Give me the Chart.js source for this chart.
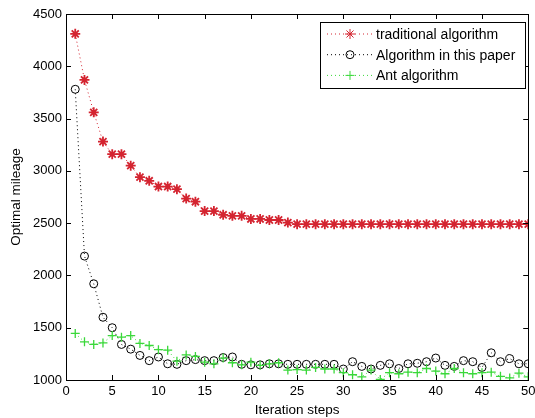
<!DOCTYPE html>
<html>
<head>
<meta charset="utf-8">
<script src="https://cdn.jsdelivr.net/npm/chart.js@4.4.1/dist/chart.umd.min.js"></script>
<style>
  html, body { margin: 0; padding: 0; background: #fff; }
  #wrap { position: relative; width: 535px; height: 418px; }
</style>
</head>
<body>
<div id="wrap"><canvas id="chart" width="535" height="418"></canvas></div>
<script>
// iteration steps (x)
const steps = [1, 2, 3, 4, 5, 6, 7, 8, 9, 10, 11, 12, 13, 14, 15, 16, 17, 18, 19, 20,
  21, 22, 23, 24, 25, 26, 27, 28, 29, 30, 31, 32, 33, 34, 35, 36, 37, 38, 39, 40,
  41, 42, 43, 44, 45, 46, 47, 48, 49, 50];

// series values
const traditional = [4310, 3870, 3560, 3280, 3160, 3160, 3050, 2940, 2905, 2850,
  2850, 2825, 2735, 2705, 2615, 2615, 2580, 2570, 2570, 2540,
  2540, 2530, 2530, 2505, 2490, 2490, 2490, 2490, 2490, 2490,
  2490, 2490, 2490, 2490, 2490, 2490, 2490, 2490, 2490, 2490,
  2490, 2490, 2490, 2490, 2490, 2490, 2490, 2490, 2490, 2490];
const thisPaper = [3780, 2185, 1920, 1600, 1500, 1340, 1295, 1235, 1185, 1220,
  1155, 1150, 1185, 1195, 1185, 1185, 1215, 1220, 1150, 1145,
  1145, 1155, 1155, 1150, 1150, 1150, 1150, 1150, 1150, 1105,
  1175, 1130, 1105, 1140, 1155, 1110, 1155, 1160, 1175, 1210,
  1140, 1130, 1185, 1175, 1120, 1260, 1175, 1205, 1155, 1155];
const antAlg = [1445, 1365, 1340, 1355, 1425, 1410, 1425, 1350, 1330, 1290,
  1285, 1180, 1240, 1225, 1170, 1155, 1210, 1165, 1145, 1170,
  1140, 1155, 1165, 1095, 1100, 1095, 1120, 1105, 1105, 1070,
  1050, 1030, 1095, 1005, 1070, 1060, 1075, 1070, 1110, 1085,
  1060, 1110, 1070, 1060, 1070, 1075, 1035, 1020, 1065, 1030];

const seriesNames = ['traditional algorithm', 'Algorithm in this paper', 'Ant algorithm'];

// axis ranges / ticks
const xMin = 0, xMax = 50, xStep = 5;
const yMin = 1000, yMax = 4500, yStep = 500;

const FONT = "'Liberation Sans', Arial, sans-serif";
const RED = '#d42430';
const GREEN = '#3ad83a';

function toPoints(vals) {
  return steps.map((s, i) => ({ x: s, y: vals[i] }));
}

// frame with inward ticks, MATLAB style, plus a boxed legend
const matlabFrame = {
  id: 'matlabFrame',
  afterDraw(chart) {
    const { ctx, chartArea, scales } = chart;
    const { left, right, top, bottom } = chartArea;
    const tl = 5;
    ctx.save();
    ctx.strokeStyle = '#000';
    ctx.lineWidth = 1;
    ctx.beginPath();
    scales.x.ticks.forEach(t => {
      const px = Math.round(scales.x.getPixelForValue(t.value)) + 0.5;
      ctx.moveTo(px, bottom); ctx.lineTo(px, bottom - tl);
      ctx.moveTo(px, top); ctx.lineTo(px, top + tl);
    });
    scales.y.ticks.forEach(t => {
      const py = Math.round(scales.y.getPixelForValue(t.value)) + 0.5;
      ctx.moveTo(left, py); ctx.lineTo(left + tl, py);
      ctx.moveTo(right, py); ctx.lineTo(right - tl, py);
    });
    ctx.stroke();
    ctx.strokeRect(Math.round(left) + 0.5, Math.round(top) + 0.5,
      Math.round(right - left), Math.round(bottom - top));

    // legend box
    const lw = 205, lh = 66;
    const lx = Math.round(right) - 3 - lw, ly = Math.round(top) + 8;
    ctx.fillStyle = '#fff';
    ctx.fillRect(lx, ly, lw, lh);
    ctx.strokeRect(lx + 0.5, ly + 0.5, lw, lh);
    ctx.font = '14px ' + FONT;
    ctx.textBaseline = 'middle';
    ctx.textAlign = 'left';
    chart.data.datasets.forEach((ds, i) => {
      const cy = ly + 12 + i * 20.7;
      ctx.save();
      ctx.strokeStyle = ds.borderColor;
      ctx.lineWidth = 1;
      ctx.setLineDash(ds.borderDash);
      ctx.beginPath();
      ctx.moveTo(lx + 7, cy); ctx.lineTo(lx + 54, cy);
      ctx.stroke();
      ctx.restore();
      ctx.save();
      ctx.strokeStyle = ds.pointBorderColor;
      ctx.fillStyle = ds.pointBackgroundColor;
      Chart.helpers.drawPoint(ctx, {
        pointStyle: ds.pointStyle, radius: ds.pointRadius,
        rotation: 0, borderWidth: ds.pointBorderWidth
      }, lx + 30, cy);
      ctx.restore();
      ctx.fillStyle = '#000';
      ctx.fillText(ds.label, lx + 56, cy + 1);
    });
    ctx.restore();
  }
};

new Chart(document.getElementById('chart'), {
  type: 'line',
  data: {
    datasets: [
      {
        label: seriesNames[0],
        data: toPoints(traditional),
        borderColor: RED,
        borderWidth: 1,
        borderDash: [1, 3],
        pointStyle: 'star',
        pointRadius: 5,
        pointBorderWidth: 1.8,
        pointBorderColor: RED,
        pointBackgroundColor: RED,
        order: 2
      },
      {
        label: seriesNames[1],
        data: toPoints(thisPaper),
        borderColor: '#000',
        borderWidth: 1,
        borderDash: [1, 3],
        pointStyle: 'circle',
        pointRadius: 4,
        pointBorderWidth: 1,
        pointBorderColor: '#000',
        pointBackgroundColor: 'rgba(0,0,0,0)',
        order: 1
      },
      {
        label: seriesNames[2],
        data: toPoints(antAlg),
        borderColor: GREEN,
        borderWidth: 1,
        borderDash: [1, 3],
        pointStyle: 'cross',
        pointRadius: 4.5,
        pointBorderWidth: 1.3,
        pointBorderColor: GREEN,
        pointBackgroundColor: GREEN,
        order: 0
      }
    ]
  },
  options: {
    responsive: false,
    animation: false,
    devicePixelRatio: 1,
    layout: { padding: { top: 14, right: 4, left: 0, bottom: 0 } },
    elements: { line: { tension: 0, fill: false } },
    plugins: {
      legend: { display: false },
      tooltip: { enabled: false }
    },
    scales: {
      x: {
        type: 'linear',
        min: xMin, max: xMax,
        grid: { display: false, drawTicks: false },
        border: { display: false },
        ticks: { stepSize: xStep, color: '#000', font: { family: FONT, size: 13 }, padding: 4, maxRotation: 0,
          callback: v => String(v) },
        title: { display: true, text: 'Iteration steps', color: '#000', font: { family: FONT, size: 13.5 }, padding: { top: 0, bottom: 0 } },
        afterFit(scale) {
          scale.height = 38;
          scale.paddingLeft = 0;
          scale.paddingRight = 0;
        }
      },
      y: {
        type: 'linear',
        min: yMin, max: yMax,
        grid: { display: false, drawTicks: false },
        border: { display: false },
        ticks: { stepSize: yStep, color: '#000', font: { family: FONT, size: 13 }, padding: 4,
          callback: v => String(v) },
        title: { display: true, text: 'Optimal mileage', color: '#000', font: { family: FONT, size: 13.5 }, padding: { top: 8.5, bottom: 0 } },
        afterFit(scale) {
          scale.width = 66;
          scale.paddingTop = 0;
          scale.paddingBottom = 0;
        }
      }
    }
  },
  plugins: [matlabFrame]
});
</script>
</body>
</html>
